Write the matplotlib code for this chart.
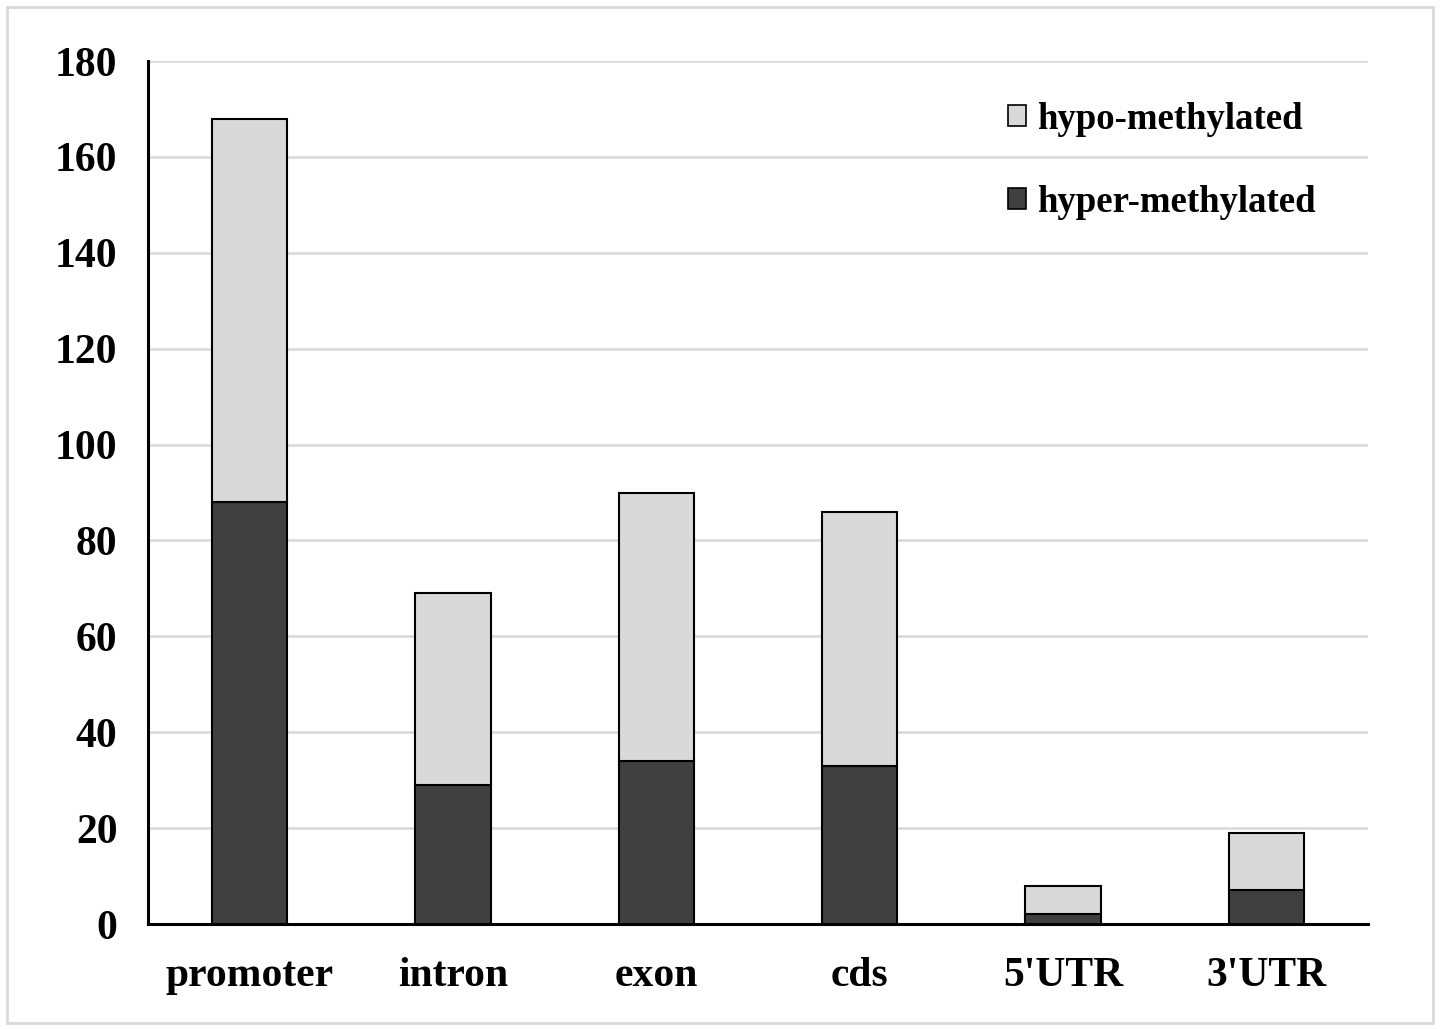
import numpy as np
import matplotlib.pyplot as plt
from matplotlib.patches import Rectangle

categories = ["promoter", "intron", "exon", "cds", "5'UTR", "3'UTR"]
hyper = [88, 29, 34, 33, 2, 7]
hypo = [80, 40, 56, 53, 6, 12]
yticks = [0, 20, 40, 60, 80, 100, 120, 140, 160, 180]

plt.rcParams['font.family'] = ['Liberation Serif', 'DejaVu Serif']
plt.rcParams['font.weight'] = 'bold'

fig = plt.figure(figsize=(14.4, 10.29), dpi=100)
ax = fig.add_axes([0.1028, 0.102, 0.8472, 0.8387])

# outer light frame
fig.patches.append(Rectangle((0.005, 0.006), 0.99, 0.987, transform=fig.transFigure,
                             fill=False, edgecolor='#d9d9d9', linewidth=2))

x = np.arange(len(categories))
w = 0.37
ax.bar(x, hyper, w, color='#404040', edgecolor='black', linewidth=1.5,
       label='hyper-methylated', zorder=3)
ax.bar(x, hypo, w, bottom=hyper, color='#d9d9d9', edgecolor='black', linewidth=1.5,
       label='hypo-methylated', zorder=3)

ax.set_xlim(-0.5, len(categories) - 0.5)
ax.set_ylim(0, 180)
ax.set_yticks(yticks)
ax.set_xticks(x)
ax.set_xticklabels(categories)
ax.tick_params(axis='both', length=0, labelsize=30)
ax.tick_params(axis='x', pad=24)
ax.tick_params(axis='y', pad=22)
ax.grid(axis='y', color='#d9d9d9', linewidth=1.8, zorder=0)
ax.set_axisbelow(True)
for s in ['top', 'right']:
    ax.spines[s].set_visible(False)
ax.spines['left'].set_linewidth(2.2)
ax.spines['bottom'].set_linewidth(2.2)

h, l = ax.get_legend_handles_labels()
leg = ax.legend(h[::-1], l[::-1], loc='upper left', bbox_to_anchor=(0.687, 0.919),
                bbox_transform=fig.transFigure, frameon=False, fontsize=26.5,
                handlelength=0.5, handleheight=0.5, handletextpad=0.3,
                labelspacing=1.3, borderpad=0)
for p in leg.get_patches():
    p.set_linewidth(1.2)

fig.savefig('out.png', dpi=100)
